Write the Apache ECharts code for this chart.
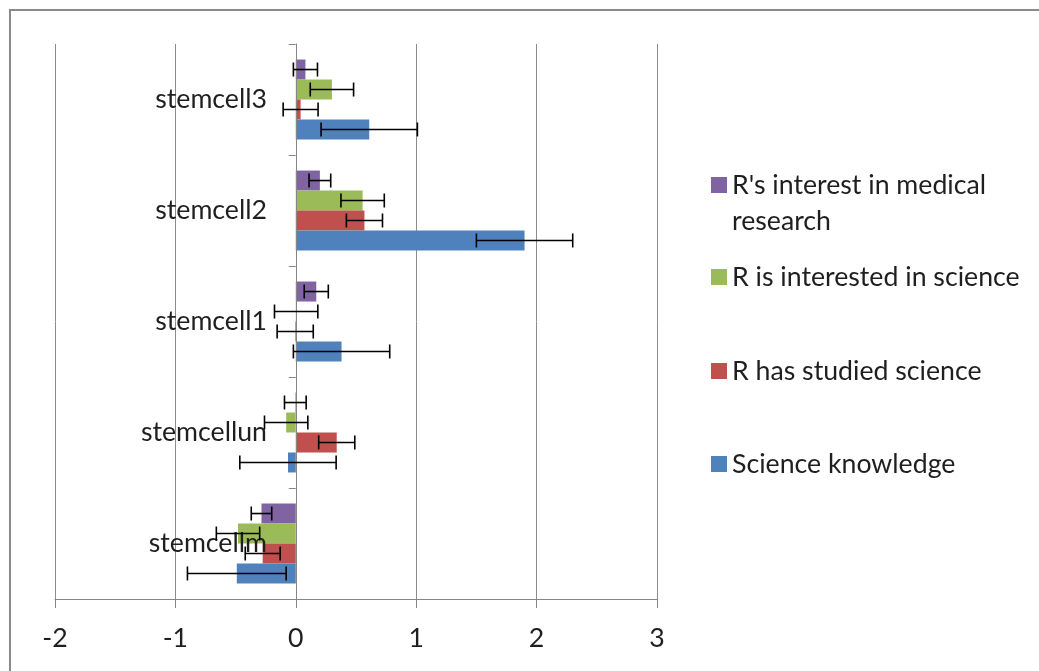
<!DOCTYPE html>
<html>
<head>
<meta charset="utf-8">
<script src="https://cdn.jsdelivr.net/npm/echarts@6/dist/echarts.min.js"></script>
<style>
html,body{margin:0;padding:0;background:#fff;}
#chart{width:1039px;height:671px;}
</style>
</head>
<body>
<div id="chart"></div>
<script>
// ---- data ----
const categories = ['stemcellm', 'stemcellun', 'stemcell1', 'stemcell2', 'stemcell3'];
const seriesNames = ["R's interest in medical research", 'R is interested in science', 'R has studied science', 'Science knowledge'];
const medicalInterest = [-0.285, -0.004, 0.17, 0.20, 0.08];
const medicalInterestErr = [0.085, 0.09, 0.10, 0.09, 0.10];
const interestedScience = [-0.48, -0.08, 0.003, 0.555, 0.30];
const interestedScienceErr = [0.18, 0.18, 0.18, 0.18, 0.18];
const studiedScience = [-0.275, 0.34, -0.005, 0.57, 0.04];
const studiedScienceErr = [0.145, 0.15, 0.15, 0.15, 0.145];
const scienceKnowledge = [-0.49, -0.065, 0.38, 1.90, 0.61];
const scienceKnowledgeErr = [0.41, 0.40, 0.40, 0.40, 0.40];
const xTicks = [-2, -1, 0, 1, 2, 3];

const values = [medicalInterest, interestedScience, studiedScience, scienceKnowledge];
const errors = [medicalInterestErr, interestedScienceErr, studiedScienceErr, scienceKnowledgeErr];
const colors = ['#8064A2', '#9BBB59', '#C0504D', '#4F81BD'];
const GAP = 0.28;
const FONT = 'Lato';
const FS = 26.7;
const TEXT = '#1f1f1f';

const chart = echarts.init(document.getElementById('chart'), null, {renderer: 'canvas'});

const barSeries = values.map((vals, i) => ({
  name: seriesNames[i],
  type: 'bar',
  data: vals,
  barGap: '0%',
  barCategoryGap: (GAP * 100) + '%',
  itemStyle: {color: colors[i]},
  z: 2
}));

// series i is drawn at position i from the top of its category
function makeErr(i) {
  const pos = i;
  return {
    name: seriesNames[i] + ' err',
    type: 'custom',
    z: 5,
    silent: true,
    data: values[i].map((v, k) => [v, k, errors[i][k]]),
    encode: {x: 0, y: 1},
    renderItem: function (params, api) {
      const v = api.value(0), c = api.value(1), e = api.value(2);
      const p0 = api.coord([v - e, c]);
      const p1 = api.coord([v + e, c]);
      const band = api.size([0, 1])[1];
      const barW = band * (1 - GAP) / 4;
      const y = p0[1] - band / 2 + band * GAP / 2 + (pos + 0.5) * barW;
      const h = 7;
      const st = {stroke: '#000', lineWidth: 1.6, fill: null};
      return {
        type: 'group',
        children: [
          {type: 'line', shape: {x1: p0[0], y1: y, x2: p1[0], y2: y}, style: st},
          {type: 'line', shape: {x1: p0[0], y1: y - h, x2: p0[0], y2: y + h}, style: st},
          {type: 'line', shape: {x1: p1[0], y1: y - h, x2: p1[0], y2: y + h}, style: st}
        ]
      };
    }
  };
}

const legendTops = [131, 259, 353, 446];
const legends = [0, 1, 2, 3].map((si, j) => ({
  data: [seriesNames[si]],
  left: 711,
  top: legendTops[j],
  orient: 'vertical',
  padding: 0,
  itemWidth: 16,
  itemHeight: 16,
  icon: 'rect',
  selectedMode: false,
  formatter: function (name) {
    if (name === "R's interest in medical research") return "\nR's interest in medical\nresearch";
    return name;
  },
  textStyle: {fontFamily: FONT, fontSize: FS, color: TEXT, lineHeight: 36}
}));

chart.setOption({
  animation: false,
  backgroundColor: '#fff',
  graphic: [{
    type: 'rect',
    shape: {x: 10, y: 10, width: 1200, height: 1000},
    style: {fill: null, stroke: '#8a8a8a', lineWidth: 2},
    z: -1
  }],
  legend: legends,
  grid: {left: 55, right: 382, top: 44, bottom: 72, containLabel: false, outerBoundsMode: 'none'},
  xAxis: {
    type: 'value',
    min: xTicks[0],
    max: xTicks[xTicks.length - 1],
    interval: 1,
    axisLine: {show: true, lineStyle: {color: '#868686', width: 1}},
    axisTick: {show: true, length: 9, lineStyle: {color: '#868686'}},
    splitLine: {show: true, lineStyle: {color: '#8c8c8c', width: 1}},
    axisLabel: {fontFamily: FONT, fontSize: FS, color: TEXT, margin: 26}
  },
  yAxis: {
    type: 'category',
    z: 4,
    data: categories,
    axisLine: {show: true, onZero: true, lineStyle: {color: '#868686', width: 1}},
    axisTick: {show: true, length: 7, alignWithLabel: false, lineStyle: {color: '#868686'}},
    axisLabel: {fontFamily: FONT, fontSize: FS, color: TEXT, margin: -212},
    splitLine: {show: false}
  },
  series: barSeries.concat([0, 1, 2, 3].map(makeErr))
});
</script>
</body>
</html>
